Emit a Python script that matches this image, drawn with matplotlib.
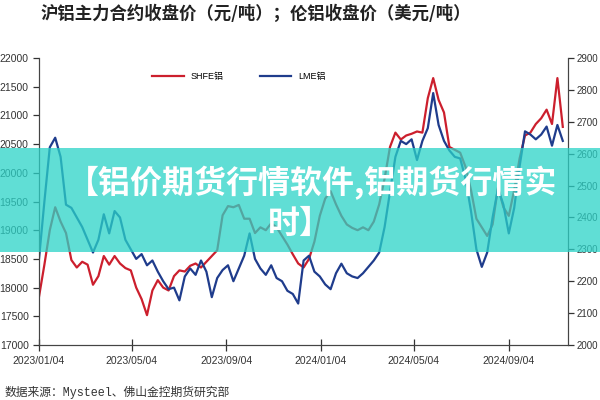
import matplotlib
matplotlib.use('Agg')
import matplotlib.pyplot as plt
import matplotlib.dates as mdates
from matplotlib.patches import Rectangle
import pandas as pd

plt.rcParams['font.family'] = ['Liberation Sans', 'Noto Sans CJK SC', 'DejaVu Sans']

# weekly closes
shfe = [17840, 18400, 19000, 19400, 19150, 18950, 18480, 18350, 18450, 18400,
        18050, 18200, 18550, 18400, 18550, 18420, 18340, 18300, 18000, 17800,
        17520, 17950, 18130, 18000, 17950, 18200, 18300, 18280, 18380, 18420,
        18350, 18450, 18550, 18650, 19260, 19420, 19400, 19440, 19200, 19200,
        18950, 19050, 19000, 19120, 19050, 18900, 18750, 18580, 18420, 18350,
        18500, 18800, 19250, 19550, 19680, 19450, 19250, 19100, 19040, 19000,
        19050, 19000, 19150, 19450, 19900, 20450, 20700, 20580, 20650, 20680,
        20720, 20700, 21300, 21650, 21270, 21050, 20450, 20400, 20350, 20100,
        19700, 19200, 19050, 18900, 19100, 19750, 19400, 19250, 19700, 20250,
        20650, 20700, 20850, 20950, 21100, 20850, 21650, 20800]
lme = [2270, 2450, 2620, 2650, 2590, 2440, 2430, 2400, 2370, 2330,
       2290, 2330, 2410, 2350, 2420, 2400, 2330, 2300, 2270, 2285,
       2250, 2265, 2230, 2200, 2175, 2180, 2140, 2215, 2240, 2220,
       2265, 2230, 2150, 2210, 2235, 2250, 2200, 2240, 2280, 2350,
       2270, 2240, 2220, 2250, 2210, 2200, 2170, 2160, 2130, 2265,
       2280, 2230, 2215, 2190, 2175, 2225, 2255, 2225, 2215, 2210,
       2225, 2245, 2265, 2290, 2370, 2480, 2590, 2640, 2630, 2645,
       2580, 2640, 2680, 2790, 2690, 2640, 2610, 2590, 2585, 2520,
       2420, 2300, 2245, 2290, 2400, 2490, 2440, 2350, 2430, 2560,
       2670, 2660, 2645, 2660, 2685, 2625, 2690, 2640]
dates = pd.date_range('2023-01-04', periods=len(shfe), freq='7D')
tick_dates = pd.to_datetime(['2023-01-04', '2023-05-04', '2023-09-04',
                             '2024-01-04', '2024-05-04', '2024-09-04'])

fig = plt.figure(figsize=(6, 4), dpi=100)
ax = fig.add_axes([0.065, 0.1375, 0.882, 0.7175])
ax2 = ax.twinx()

ax.plot(dates, shfe, color='#cc1f2d', lw=1.6, label='SHFE铝')
ax2.plot(dates, lme, color='#1f3c8c', lw=1.6, label='LME铝')

ax.set_ylim(17000, 22000)
ax.set_yticks(range(17000, 22001, 500))
ax2.set_ylim(2000, 2900)
ax2.set_yticks(range(2000, 2901, 100))
ax.set_xlim(pd.Timestamp('2023-01-04'), pd.Timestamp('2024-11-20'))
ax.set_xticks(tick_dates)
ax.xaxis.set_major_formatter(mdates.DateFormatter('%Y/%m/%d'))

for a in (ax, ax2):
    a.spines['top'].set_visible(False)
    for s in a.spines.values():
        s.set_color('#444444')
    a.tick_params(labelsize=7.5, colors='#333333', length=4, width=0.9)
ax.tick_params(axis='x', direction='inout', length=8, pad=4)
ax2.tick_params(axis='y', labelsize=7, pad=2)

h1, l1 = ax.get_legend_handles_labels()
h2, l2 = ax2.get_legend_handles_labels()
ax.legend(h1 + h2, l1 + l2, ncol=2, frameon=False, fontsize=6.5,
          loc='center', bbox_to_anchor=(0.378, 0.934), columnspacing=4,
          handlelength=3.5)

fig.text(0.067, 0.965, '沪铝主力合约收盘价（元/吨）；伦铝收盘价（美元/吨）',
         fontsize=12.5, fontweight='bold', family=['Noto Sans CJK SC'],
         color='#222222', va='center', ha='left')
fig.text(0.008, 0.018, '数据来源：Mysteel、佛山金控期货研究部', fontsize=8.5,
         family=['Liberation Mono', 'Noto Sans CJK SC'], color='#333333',
         va='center', ha='left')

# teal banner on top
ov = fig.add_axes([0, 0, 1, 1])
ov.set_xlim(0, 1)
ov.set_ylim(0, 1)
ov.axis('off')
ov.add_patch(Rectangle((0, 0.37), 1, 0.26, facecolor='#2bd3c8', alpha=0.75,
                       edgecolor='none'))
ov.text(0.52, 0.5425, '【铝价期货行情软件,铝期货行情实', fontsize=23,
        fontweight='bold', color='white', ha='center', va='center',
        family=['Noto Sans CJK SC'])
ov.text(0.5, 0.44, '时】', fontsize=23, fontweight='bold', color='white',
        ha='center', va='center', family=['Noto Sans CJK SC'])

fig.savefig('out.png', dpi=100)
